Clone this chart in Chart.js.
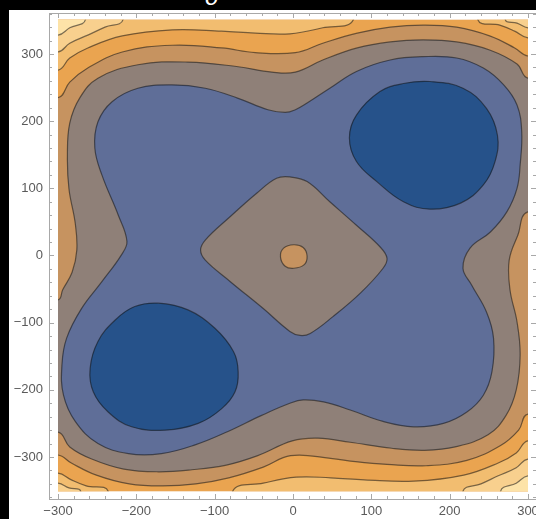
<!DOCTYPE html>
<html>
<head>
<meta charset="utf-8">
<script src="https://cdn.jsdelivr.net/npm/chart.js@4.4.1/dist/chart.umd.min.js"></script>
<style>
  html, body { margin: 0; padding: 0; background: #000; overflow: hidden; }
  #stage { position: absolute; left: 0; top: 0; width: 536px; height: 519px; overflow: hidden; background: #000; }
  #panel { position: absolute; left: 9px; top: 10px; width: 527px; height: 509px; background: #fff; }
  #title { position: absolute; left: 205px; top: -15px; font: italic 24px "Liberation Sans", sans-serif; line-height: 24px; color: #fff; }
  #c { position: absolute; left: 0; top: 0; }
</style>
</head>
<body>
<div id="stage">
  <div id="panel"></div>
  <div id="title">σ</div>
  <canvas id="c" width="545" height="519"></canvas>
</div>
<script>
// ---- axes ----
const X_RANGE = [-311.5, 311.5];
const Y_RANGE = [-364, 361];
const X_TICKS = [-300, -200, -100, 0, 100, 200, 300];
const Y_TICKS = [-300, -200, -100, 0, 100, 200, 300];
const MINOR_STEP = 20;

// sampled domain of the contour plot
const DOMAIN_X = [-300, 300];
const DOMAIN_Y = [-351, 351];

// ---- level curves, [x, y] pairs along each contour ----
// corner curves (highest levels)
const Q1 = [[-300,328],[-285,339],[-265,351]];
const Q2 = [[300,-328],[285,-339],[265,-351]];
const P1 = [[-300,303],[-285,316],[-262,328],[-240,340],[-217,351]];
const P2 = [[300,-303],[285,-316],[262,-328],[240,-340],[217,-351]];
const P3 = [[271,351],[286,346],[300,339]];
const P4 = [[-271,-351],[-286,-346],[-300,-339]];
const O1 = [[-300,276],[-285,294],[-262,309],[-218,327],[-154,336],[-91,334],[-48,331],[-4,330],[38,339],[77,351]];
const O2 = [[236,351],[264,343],[283,334],[300,324]];
const O3 = [[300,-276],[285,-294],[262,-309],[218,-327],[154,-336],[91,-334],[48,-331],[4,-330],[-38,-339],[-77,-351]];
const O4 = [[-236,-351],[-264,-343],[-283,-334],[-300,-324]];
const N1 = [[-300,235],[-285,258],[-262,279],[-218,303],[-154,313],[-91,309],[-48,302],[3,302],[38,316],[82,331],[124,340],[166,343],[209,340],[251,327],[283,309],[300,297]];
const N2 = [[300,-236],[288,-260],[265,-283],[222,-305],[170,-313],[120,-311],[80,-307],[48,-302],[-3,-298],[-38,-315],[-82,-331],[-124,-340],[-166,-343],[-209,-340],[-251,-327],[-283,-309],[-300,-297]];
// grey band borders
const T1 = [[300,264],[286,285],[251,306],[209,318],[166,321],[124,318],[82,309],[38,291],[3,273],[-27,273],[-70,281],[-134,288],[-198,284],[-249,264],[-272,235],[-285,197],[-288,148],[-286,99],[-278,48],[-276,8],[-282,-25],[-294,-51],[-300,-66]];
const T2 = [[-300,-263],[-285,-285],[-257,-303],[-216,-318],[-172,-322],[-129,-319],[-85,-312],[-45,-298],[-1,-276],[32,-272],[73,-278],[126,-287],[168,-290],[207,-285],[249,-267],[272,-238],[285,-200],[290,-148],[286,-99],[277,-51],[276,-7],[287,30],[300,65]];
// closed curves
const VALLEY = [[-249,199],[-231,229],[-198,249],[-155,254],[-112,249],[-70,234],[-32,217],[-10,213],[3,217],[18,227],[47,249],[81,274],[124,291],[166,296],[209,294],[243,279],[269,254],[286,224],[292,184],[290,135],[286,100],[273,65],[252,35],[226,11],[217,-19],[228,-44],[247,-84],[256,-123],[254,-173],[243,-208],[222,-233],[192,-250],[154,-255],[115,-247],[73,-230],[39,-218],[13,-215],[-4,-220],[-40,-238],[-83,-262],[-125,-282],[-168,-295],[-210,-295],[-249,-280],[-278,-247],[-293,-208],[-295,-163],[-289,-123],[-270,-79],[-244,-39],[-219,1],[-212,21],[-223,60],[-244,120],[-253,160]];
const WELL_UR = [[175,259],[217,249],[247,219],[261,179],[258,140],[243,105],[214,78],[175,69],[141,80],[107,110],[81,140],[72,175],[81,209],[111,244],[141,256]];
const WELL_LL = [[-172,-71],[-134,-81],[-100,-108],[-76,-143],[-70,-173],[-74,-203],[-91,-228],[-121,-250],[-163,-260],[-206,-255],[-236,-233],[-255,-203],[-259,-168],[-249,-128],[-227,-96],[-202,-76]];
const RIDGE = [[-4,117],[18,110],[47,80],[81,45],[111,13],[120,-4],[115,-19],[86,-56],[51,-91],[22,-116],[9,-119],[-4,-113],[-38,-79],[-80,-39],[-112,-7],[-118,8],[-112,23],[-80,58],[-46,93],[-21,115]];
const PEAK = [[1,16],[13,12],[18,-1],[14,-14],[1,-19],[-10,-16],[-16,-2],[-12,11]];

// ---- styles ----
const BAND = {
  deep: '#26528a',
  low: '#5f6e98',
  mid: '#8f8078',
  tan: '#c69360',
  orange: '#eaa450',
  light: '#f2bd70',
  pale: '#f8d08e',
  palest: '#fde3a8'
};
const LINE_COLOR = 'rgba(20,20,20,0.55)';
const LABEL_COLOR = '#5a5a5a';
const FRAME_COLOR = '#a8a8a8';
const FONT = '"Liberation Sans", Arial, sans-serif';
const OUT = 90;
const FAR = { tl: {x: -390, y: 441}, tr: {x: 390, y: 441}, bl: {x: -390, y: -441}, br: {x: 390, y: -441} };

const toPts = arr => arr.map(([x, y]) => ({x, y}));

// move an end point that sits on the domain border straight outwards
function pushOut(p) {
  if (p.x <= DOMAIN_X[0]) return {x: DOMAIN_X[0] - OUT, y: p.y};
  if (p.x >= DOMAIN_X[1]) return {x: DOMAIN_X[1] + OUT, y: p.y};
  if (p.y >= DOMAIN_Y[1]) return {x: p.x, y: DOMAIN_Y[1] + OUT};
  return {x: p.x, y: DOMAIN_Y[0] - OUT};
}

// region cut off by an open contour and the domain border (closed outside the clip)
function edgeRegion(line, corners) {
  const pts = toPts(line);
  return [pushOut(pts[0]), ...pts, pushOut(pts[pts.length - 1]), ...corners.map(c => FAR[c])];
}

// closed contour; one extra point on each side keeps the seam smooth
function loopRegion(line) {
  const pts = toPts(line);
  const n = pts.length;
  return [pts[n - 1], ...pts, pts[0], pts[1]];
}

function bandSet(data, color) {
  return {
    data, backgroundColor: color, borderColor: LINE_COLOR, borderWidth: 1.2,
    showLine: true, fill: 'shape', tension: 0.4, pointRadius: 0, pointHoverRadius: 0
  };
}
function loopSet(line, color) {
  const data = loopRegion(line);
  const last = data.length - 2;
  const ds = bandSet(data, color);
  ds.segment = {
    borderColor: c => (c.p0DataIndex === 0 || c.p0DataIndex === last) ? 'rgba(0,0,0,0)' : undefined
  };
  return ds;
}

const greyBand = (() => {
  const a = toPts(T1), b = toPts(T2);
  return [pushOut(a[0]), ...a, pushOut(a[a.length - 1]), pushOut(b[0]), ...b, pushOut(b[b.length - 1])];
})();

// painted bottom to top
const layers = [
  bandSet(greyBand, BAND.mid),
  bandSet(edgeRegion(N1, ['tr', 'tl']), BAND.orange),
  bandSet(edgeRegion(N2, ['bl', 'br']), BAND.orange),
  bandSet(edgeRegion(O1, ['tl']), BAND.light),
  bandSet(edgeRegion(O2, ['tr']), BAND.light),
  bandSet(edgeRegion(O3, ['br']), BAND.light),
  bandSet(edgeRegion(O4, ['bl']), BAND.light),
  bandSet(edgeRegion(P1, ['tl']), BAND.pale),
  bandSet(edgeRegion(P2, ['br']), BAND.pale),
  bandSet(edgeRegion(P3, ['tr']), BAND.pale),
  bandSet(edgeRegion(P4, ['bl']), BAND.pale),
  bandSet(edgeRegion(Q1, ['tl']), BAND.palest),
  bandSet(edgeRegion(Q2, ['br']), BAND.palest),
  loopSet(VALLEY, BAND.low),
  loopSet(WELL_UR, BAND.deep),
  loopSet(WELL_LL, BAND.deep),
  loopSet(RIDGE, BAND.mid),
  loopSet(PEAK, BAND.tan)
];

// clip all contour drawing to the sampled domain and lay the base colour
const domainClip = {
  id: 'domainClip',
  beforeDatasetsDraw(chart) {
    const {ctx, scales: {x, y}} = chart;
    const l = x.getPixelForValue(DOMAIN_X[0]), r = x.getPixelForValue(DOMAIN_X[1]);
    const t = y.getPixelForValue(DOMAIN_Y[1]), b = y.getPixelForValue(DOMAIN_Y[0]);
    ctx.save();
    ctx.beginPath();
    ctx.rect(l, t, r - l, b - t);
    ctx.clip();
    ctx.fillStyle = BAND.tan;
    ctx.fillRect(l, t, r - l, b - t);
  },
  afterDatasetsDraw(chart) {
    chart.ctx.restore();
  }
};

// frame with inward major and minor tick marks on all sides
const frameTicks = {
  id: 'frameTicks',
  afterDraw(chart) {
    const {ctx, chartArea: a, scales: {x, y}} = chart;
    ctx.save();
    ctx.strokeStyle = FRAME_COLOR;
    ctx.lineWidth = 1;
    ctx.strokeRect(Math.round(a.left) + 0.5, Math.round(a.top) + 0.5,
                   Math.round(a.right - a.left) - 1, Math.round(a.bottom - a.top) - 1);
    ctx.beginPath();
    const top = Math.round(a.top), bottom = Math.round(a.bottom) - 1;
    const left = Math.round(a.left), right = Math.round(a.right) - 1;
    for (let v = X_TICKS[0]; v <= X_TICKS[X_TICKS.length - 1]; v += MINOR_STEP) {
      const px = Math.round(x.getPixelForValue(v)) + 0.5;
      const len = X_TICKS.includes(v) ? 5 : 3;
      ctx.moveTo(px, bottom); ctx.lineTo(px, bottom - len);
      ctx.moveTo(px, top); ctx.lineTo(px, top + len);
    }
    for (let v = -360; v <= 360; v += MINOR_STEP) {
      const py = Math.round(y.getPixelForValue(v)) + 0.5;
      if (py <= top + 1 || py >= bottom) continue;
      const len = Y_TICKS.includes(v) ? 5 : 3;
      ctx.moveTo(left, py); ctx.lineTo(left + len, py);
      ctx.moveTo(right, py); ctx.lineTo(right - len, py);
    }
    ctx.stroke();
    ctx.restore();
  }
};

const fmt = v => (v < 0 ? '\u2212' + Math.abs(v) : String(v));

new Chart(document.getElementById('c'), {
  type: 'scatter',
  data: { datasets: layers.slice().reverse() },
  options: {
    responsive: false,
    devicePixelRatio: 1,
    animation: false,
    events: [],
    layout: { padding: { left: 0, top: 13, right: 8, bottom: 0 } },
    elements: { line: { capBezierPoints: false, borderJoinStyle: 'round' } },
    plugins: { legend: { display: false }, tooltip: { enabled: false } },
    scales: {
      x: {
        type: 'linear', position: 'bottom', min: X_RANGE[0], max: X_RANGE[1],
        grid: { display: false, drawTicks: false },
        border: { display: false },
        ticks: { padding: 4, color: LABEL_COLOR, font: { family: FONT, size: 13, lineHeight: 1.2 },
                 maxRotation: 0, autoSkip: false, callback: fmt },
        afterBuildTicks: s => { s.ticks = X_TICKS.map(v => ({value: v})); },
        afterFit: s => { s.height = 19; }
      },
      y: {
        type: 'linear', position: 'left', min: Y_RANGE[0], max: Y_RANGE[1],
        grid: { display: false, drawTicks: false },
        border: { display: false },
        ticks: { padding: 6, color: LABEL_COLOR, font: { family: FONT, size: 13, lineHeight: 1 },
                 autoSkip: false, callback: fmt },
        afterBuildTicks: s => { s.ticks = Y_TICKS.map(v => ({value: v})); },
        afterFit: s => { s.width = 49; }
      }
    }
  },
  plugins: [domainClip, frameTicks]
});
</script>
</body>
</html>
